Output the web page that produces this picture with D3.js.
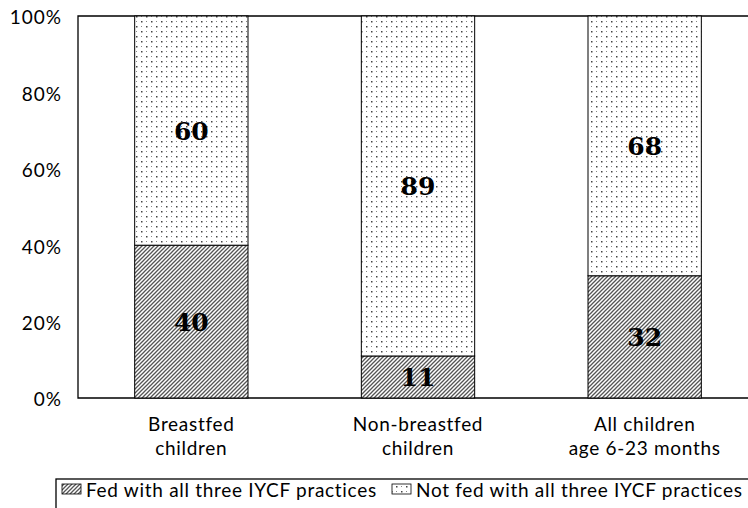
<!DOCTYPE html>
<html>
<head>
<meta charset="utf-8">
<script src="https://cdn.jsdelivr.net/npm/d3@7"></script>
<style>
  body { margin: 0; background: #fff; }
  svg { display: block; }
</style>
</head>
<body>
<div id="chart"></div>
<script>
const categories = [["Breastfed", "children"], ["Non-breastfed", "children"], ["All children", "age 6-23 months"]];
const fedAll = [40, 11, 32];
const notFedAll = [60, 89, 68];
const yTicks = [0, 20, 40, 60, 80, 100];
const seriesNames = ["Fed with all three IYCF practices", "Not fed with all three IYCF practices"];

const width = 748, height = 508;
const margin = { top: 16, left: 78, bottom: 110 };
const plotRight = 758;

const svg = d3.select("#chart").append("svg")
  .attr("width", width)
  .attr("height", height);

// patterns
const defs = svg.append("defs");
const hatch = defs.append("pattern")
  .attr("id", "hatch")
  .attr("patternUnits", "userSpaceOnUse")
  .attr("width", 4).attr("height", 4);
hatch.append("rect").attr("width", 4).attr("height", 4).attr("fill", "#fff");
hatch.append("path")
  .attr("d", "M-1,1 l2,-2 M0,4 l4,-4 M3,5 l2,-2")
  .attr("stroke", "#555").attr("stroke-width", 1.3);

const dots = defs.append("pattern")
  .attr("id", "dots")
  .attr("patternUnits", "userSpaceOnUse")
  .attr("width", 10).attr("height", 10);
dots.append("rect").attr("width", 10).attr("height", 10).attr("fill", "#fff");
dots.append("rect").attr("x", 1).attr("y", 1).attr("width", 1.5).attr("height", 1.5).attr("fill", "#444");
dots.append("rect").attr("x", 6).attr("y", 6).attr("width", 1.5).attr("height", 1.5).attr("fill", "#444");
dots.append("rect").attr("x", 6).attr("y", 1).attr("width", 1).attr("height", 1).attr("fill", "#888");
dots.append("rect").attr("x", 1).attr("y", 6).attr("width", 1).attr("height", 1).attr("fill", "#888");

const x = d3.scaleBand()
  .domain(d3.range(categories.length))
  .range([margin.left, plotRight])
  .paddingInner(0.5)
  .paddingOuter(0.25);

const y = d3.scaleLinear()
  .domain([0, 100])
  .range([height - margin.bottom, margin.top]);

const rows = categories.map((c, i) => ({ i, fed: fedAll[i], notFed: notFedAll[i] }));

// frame
svg.append("path")
  .attr("d", `M${plotRight},${y(100)} H${margin.left} V${y(0)} H${plotRight}`)
  .attr("fill", "none").attr("stroke", "#000").attr("stroke-width", 1.3);

const bars = svg.append("g").selectAll("g").data(rows).join("g");

bars.append("rect")
  .attr("x", d => x(d.i))
  .attr("width", x.bandwidth())
  .attr("y", d => y(d.fed))
  .attr("height", d => y(0) - y(d.fed))
  .attr("fill", "url(#hatch)")
  .attr("stroke", "#000").attr("stroke-width", 1);

bars.append("rect")
  .attr("x", d => x(d.i))
  .attr("width", x.bandwidth())
  .attr("y", d => y(d.fed + d.notFed))
  .attr("height", d => y(d.fed) - y(d.fed + d.notFed))
  .attr("fill", "url(#dots)")
  .attr("stroke", "#000").attr("stroke-width", 1);

const valueFont = "'DejaVu Serif', 'Liberation Serif', serif";
bars.append("text")
  .attr("x", d => x(d.i) + x.bandwidth() / 2)
  .attr("y", d => y(d.fed / 2))
  .attr("dy", "0.36em")
  .attr("text-anchor", "middle")
  .attr("font-family", valueFont).attr("font-weight", "bold").attr("font-size", 25)
  .text(d => d.fed);

bars.append("text")
  .attr("x", d => x(d.i) + x.bandwidth() / 2)
  .attr("y", d => y(d.fed + d.notFed / 2))
  .attr("dy", "0.36em")
  .attr("text-anchor", "middle")
  .attr("font-family", valueFont).attr("font-weight", "bold").attr("font-size", 25)
  .text(d => d.notFed);

const labelFont = "Lato, 'Open Sans', sans-serif";
const labelSize = 19;
const spacing = "0.7px";

// y axis labels
const yAxis = d3.axisLeft(y).tickValues(yTicks).tickSize(0).tickPadding(16).tickFormat(d => d + "%");
svg.append("g")
  .attr("transform", `translate(${margin.left},0)`)
  .call(yAxis)
  .call(g => g.select(".domain").remove())
  .selectAll("text")
  .attr("dy", "0.42em")
  .attr("font-family", labelFont).attr("font-size", labelSize)
  .attr("letter-spacing", "1px").attr("fill", "#000");

// x labels
const xl = svg.append("g").selectAll("text").data(categories).join("text")
  .attr("x", (d, i) => x(i) + x.bandwidth() / 2)
  .attr("y", y(0) + 33)
  .attr("text-anchor", "middle")
  .attr("font-family", labelFont).attr("font-size", labelSize)
  .attr("letter-spacing", spacing).attr("fill", "#000");
xl.selectAll("tspan").data(d => d).join("tspan")
  .attr("x", function () { return d3.select(this.parentNode).attr("x"); })
  .attr("dy", (d, j) => j === 0 ? 0 : 24)
  .text(d => d);

// legend
const leg = svg.append("g");
leg.append("rect")
  .attr("x", 56).attr("y", 479).attr("width", 720).attr("height", 60)
  .attr("fill", "none").attr("stroke", "#000").attr("stroke-width", 1.3);
const legX = [62, 392];
const legFill = ["url(#hatch)", "url(#dots)"];
seriesNames.forEach((name, k) => {
  leg.append("rect")
    .attr("x", legX[k]).attr("y", 484).attr("width", 19).attr("height", 10)
    .attr("fill", legFill[k]).attr("stroke", "#000").attr("stroke-width", 0.8);
  leg.append("text")
    .attr("x", legX[k] + 24).attr("y", 497)
    .attr("font-family", labelFont).attr("font-size", labelSize)
    .attr("letter-spacing", spacing).attr("fill", "#000")
    .text(name);
});
</script>
</body>
</html>
